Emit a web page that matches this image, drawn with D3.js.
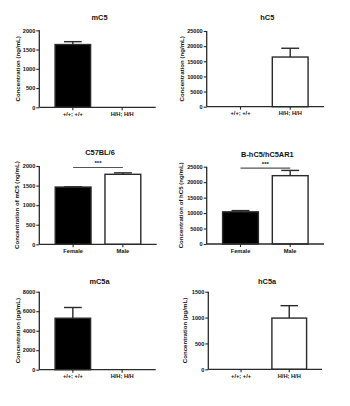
<!DOCTYPE html>
<html><head><meta charset="utf-8">
<script src="https://cdn.jsdelivr.net/npm/d3@7"></script>
<style>body{margin:0;background:#fff}svg{display:block}text{font-family:"Liberation Sans",Arial,sans-serif;font-weight:bold;fill:#111}</style>
</head><body><div id="c"></div>
<script>
// ---- data ----
const genoCats = ["+/+; +/+", "H/H; H/H"];
const sexCats = ["Female", "Male"];

const mC5Mean = [1630, 0];
const mC5Err = [1705, 0];
const hC5Mean = [0, 16400];
const hC5Err = [0, 19300];
const c57Mean = [1462, 1788];
const c57Err = [1468, 1825];
const bhMean = [10400, 22100];
const bhErr = [10800, 23800];
const mC5aMean = [5280, 0];
const mC5aErr = [6380, 0];
const hC5aMean = [0, 990];
const hC5aErr = [0, 1230];

const ticks2000 = [0, 500, 1000, 1500, 2000];
const ticks25000 = [0, 5000, 10000, 15000, 20000, 25000];
const ticks8000 = [0, 2000, 4000, 6000, 8000];
const ticks1500 = [0, 500, 1000, 1500];

const titles = ["mC5", "hC5", "C57BL/6", "B-hC5/hC5AR1", "mC5a", "hC5a"];
const yLabels = ["Concentration (ng/mL)", "Concentration (ng/mL)", "Concentration of mC5 (ng/mL)",
  "Concentration of hC5 (ng/mL)", "Concentration (pg/mL)", "Concentration (pg/mL)"];

// ---- layout ----
const panels = [
  {cats: genoCats, mean: mC5Mean, err: mC5Err, ticks: ticks2000, x0: 39.3, x1: 155.7, yT: 30.3, yB: 107.3, lx: 18.3, ty: 17, sig: false},
  {cats: genoCats, mean: hC5Mean, err: hC5Err, ticks: ticks25000, x0: 206.7, x1: 324, yT: 31, yB: 106.7, lx: 182.3, ty: 17, sig: false},
  {cats: sexCats, mean: c57Mean, err: c57Err, ticks: ticks2000, x0: 39.3, x1: 156.7, yT: 166, yB: 244.3, lx: 16.7, ty: 152.5, sig: true},
  {cats: sexCats, mean: bhMean, err: bhErr, ticks: ticks25000, x0: 206.7, x1: 324, yT: 166.7, yB: 244, lx: 180.7, ty: 154, sig: true},
  {cats: genoCats, mean: mC5aMean, err: mC5aErr, ticks: ticks8000, x0: 39.3, x1: 155.7, yT: 291.7, yB: 369.7, lx: 18.3, ty: 281.5, sig: false},
  {cats: genoCats, mean: hC5aMean, err: hC5aErr, ticks: ticks1500, x0: 208.3, x1: 322, yT: 291.7, yB: 369.3, lx: 185, ty: 281.5, sig: false}
];
const fills = ["#000", "#fff"];
const lineCol = "#2a2a2a";

const svg = d3.select("#c").append("svg").attr("width", 350).attr("height", 406);

panels.forEach((p, i) => {
  const g = svg.append("g");
  const x = d3.scaleBand().domain(p.cats).range([p.x0, p.x1]).paddingInner(0.28).paddingOuter(0.32);
  const y = d3.scaleLinear().domain([0, d3.max(p.ticks)]).range([p.yB, p.yT]);
  const bw = x.bandwidth();

  // bars
  g.selectAll("rect.bar").data(p.cats).join("rect")
    .attr("x", d => x(d)).attr("width", bw)
    .attr("y", (d, j) => y(p.mean[j])).attr("height", (d, j) => y(0) - y(p.mean[j]))
    .attr("fill", (d, j) => fills[j]).attr("stroke", lineCol).attr("stroke-width", 1.4)
    .style("display", (d, j) => p.mean[j] > 0 ? null : "none");
  // error bars (upper only)
  const eb = g.selectAll("g.eb").data(p.cats).join("g")
    .style("display", (d, j) => p.mean[j] > 0 ? null : "none");
  eb.append("line")
    .attr("x1", d => x(d) + bw / 2).attr("x2", d => x(d) + bw / 2)
    .attr("y1", (d, j) => y(p.mean[j])).attr("y2", (d, j) => y(p.err[j]))
    .attr("stroke", lineCol).attr("stroke-width", 1.4);
  eb.append("line")
    .attr("x1", d => x(d) + bw / 2 - bw * 0.25).attr("x2", d => x(d) + bw / 2 + bw * 0.25)
    .attr("y1", (d, j) => y(p.err[j])).attr("y2", (d, j) => y(p.err[j]))
    .attr("stroke", lineCol).attr("stroke-width", 1.4);

  // axes
  const ya = d3.axisLeft(y).tickValues(p.ticks).tickFormat(d3.format("d")).tickSize(3).tickPadding(1).tickSizeOuter(0);
  const yg = g.append("g").attr("transform", `translate(${p.x0},0)`).call(ya);
  const xa = d3.axisBottom(x).tickSize(3).tickPadding(1.5).tickSizeOuter(0);
  const xg = g.append("g").attr("transform", `translate(0,${p.yB})`).call(xa);
  [yg, xg].forEach(a => {
    a.select(".domain").attr("stroke", lineCol).attr("stroke-width", 1.3);
    a.selectAll(".tick line").attr("stroke", lineCol).attr("stroke-width", 1.1);
    a.selectAll("text").attr("font-family", '"Liberation Sans",Arial,sans-serif').attr("font-weight", "bold").attr("fill", "#111");
  });
  yg.selectAll("text").attr("font-size", 5.6);
  xg.selectAll("text").attr("font-size", 5.7);
  yg.select(".domain").attr("d", `M0,${p.yB}V${p.yT}`);
  xg.select(".domain").attr("d", `M${p.x0},0H${p.x1}`);

  // title
  g.append("text").attr("x", (p.x0 + p.x1) / 2 + 2).attr("y", p.ty + 2.5).attr("text-anchor", "middle")
    .attr("font-size", 7.4).text(titles[i]);
  // y label
  g.append("text").attr("transform", `translate(${p.lx + 2},${(p.yT + p.yB) / 2}) rotate(-90)`)
    .attr("text-anchor", "middle").attr("font-size", 6.1).text(yLabels[i]);

  // significance
  if (p.sig) {
    const cx = p.cats.map(c => x(c) + bw / 2);
    const sy = p.yT + 1.5;
    g.append("line").attr("x1", cx[0]).attr("x2", cx[1]).attr("y1", sy).attr("y2", sy)
      .attr("stroke", "#555").attr("stroke-width", 1.2);
    g.append("text").attr("x", (cx[0] + cx[1]) / 2).attr("y", sy - 2.2).attr("text-anchor", "middle")
      .attr("font-size", 6).text("***");
  }
});
</script></body></html>
